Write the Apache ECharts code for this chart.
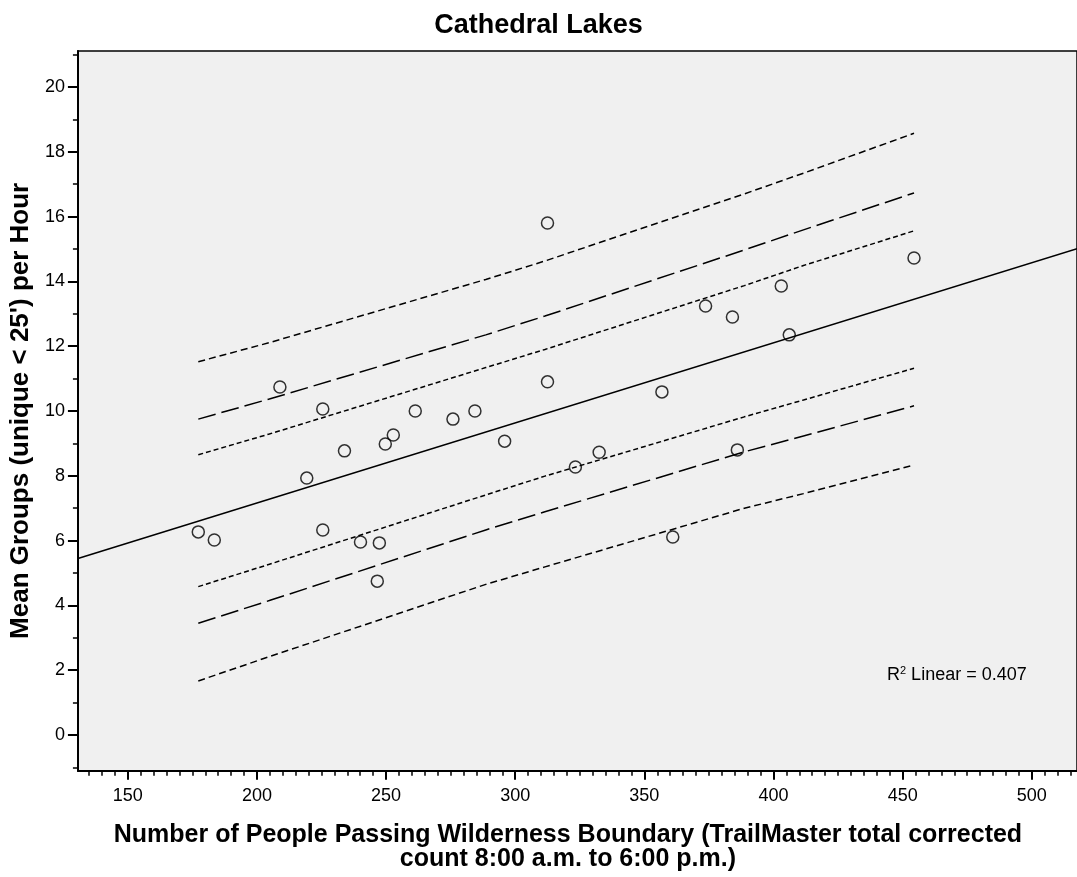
<!DOCTYPE html>
<html>
<head>
<meta charset="utf-8">
<script src="https://cdn.jsdelivr.net/npm/echarts@6/dist/echarts.min.js"></script>
<style>
  html, body { margin: 0; padding: 0; background: #fff; }
  #chart { width: 1077px; height: 877px; }
</style>
</head>
<body>
<div id="chart"></div>
<script>
// People passing the boundary vs. mean groups per hour (Cathedral Lakes)
const peopleCount = [177.3, 183.5, 208.9, 219.3, 225.5, 225.5, 233.9, 240.1, 246.6, 247.4,
  249.7, 252.8, 261.3, 275.9, 284.4, 295.9, 312.5, 312.5, 323.3, 332.5,
  356.8, 361.0, 373.7, 384.1, 386.0, 403.0, 406.1, 454.4];
const meanGroups = [6.27, 6.02, 10.74, 7.93, 10.06, 6.33, 8.77, 5.96, 4.75, 5.93,
  8.98, 9.26, 10.00, 9.75, 10.00, 9.07, 15.80, 10.90, 8.27, 8.73,
  10.59, 6.11, 13.24, 12.90, 8.80, 13.86, 12.35, 14.72];

// Linear fit across the plotted range
const fitX = [130.7, 517.5];
const fitY = [5.45, 15.01];

// Interval bands around the fit
const bandX = [177.3, 204.8, 288.6, 311.5, 388.7, 411.6, 454.4];
const outerUpper = [11.52, 12.11, 14.06, 14.63, 16.70, 17.34, 18.57];
const midUpper   = [9.75, 10.37, 12.35, 12.93, 14.97, 15.59, 16.73];
const innerUpper = [8.65, 9.29, 11.34, 11.90, 13.87, 14.49, 15.56];
const innerLower = [4.58, 5.27, 7.41, 7.99, 9.82, 10.34, 11.32];
const midLower   = [3.45, 4.15, 6.33, 6.89, 8.74, 9.23, 10.16];
const outerLower = [1.67, 2.42, 4.65, 5.19, 7.00, 7.45, 8.33];

// Axis ticks
const xMajorTicks = [150, 200, 250, 300, 350, 400, 450, 500];
const xMinorTicks = [];
for (let v = 135; v <= 515; v += 5) if (v % 50 !== 0) xMinorTicks.push(v);
const yMajorTicks = [0, 2, 4, 6, 8, 10, 12, 14, 16, 18, 20];
const yMinorTicks = [-1, 1, 3, 5, 7, 9, 11, 13, 15, 17, 19, 21];

const FONT = '"Liberation Sans", Arial, Helvetica, sans-serif';
const X_MIN = 130.7, X_MAX = 517.5, Y_MIN = -1.1, Y_MAX = 21.11;

const zip = (xs, ys) => xs.map((x, i) => [x, ys[i]]);

function bandSeries(name, ys, dash) {
  return {
    name, type: 'line', data: zip(bandX, ys), symbol: 'none', smooth: false,
    lineStyle: { color: '#000', width: 1.5, type: dash }, silent: true, z: 3
  };
}

const chart = echarts.init(document.getElementById('chart'), null, { renderer: 'canvas' });
chart.setOption({
  animation: false,
  backgroundColor: '#fff',
  title: {
    text: 'Cathedral Lakes', left: 'center', top: 7,
    textStyle: { fontFamily: FONT, fontSize: 27, fontWeight: 'bold', color: '#000' }
  },
  grid: {
    left: 75.5, top: 51, right: -3, bottom: 106.3,
    show: true, backgroundColor: '#f0f0f0', borderColor: '#000', borderWidth: 1.5
  },
  xAxis: [{
    type: 'value', min: X_MIN, max: X_MAX, position: 'bottom',
    axisLine: { show: true, onZero: false, lineStyle: { color: '#000', width: 2 } },
    axisTick: { show: true, length: 9, customValues: xMajorTicks, lineStyle: { color: '#000', width: 2 } },
    axisLabel: { customValues: xMajorTicks, margin: 16, fontFamily: FONT, fontSize: 18, color: '#000' },
    splitLine: { show: false },
    name: 'Number of People Passing Wilderness Boundary (TrailMaster total corrected\ncount 8:00 a.m. to 6:00 p.m.)',
    nameLocation: 'middle', nameGap: 52,
    nameTextStyle: {
      fontFamily: FONT, fontSize: 25, fontWeight: 'bold', color: '#000', lineHeight: 24,
      padding: [0, 19, 0, 0]
    }
  }, {
    type: 'value', min: X_MIN, max: X_MAX, position: 'bottom', offset: 0,
    axisLine: { show: false, onZero: false },
    axisTick: { show: true, length: 5, customValues: xMinorTicks, lineStyle: { color: '#000', width: 1.5 } },
    axisLabel: { show: false }, splitLine: { show: false }
  }],
  yAxis: [{
    type: 'value', min: Y_MIN, max: Y_MAX, position: 'left',
    axisLine: { show: true, onZero: false, lineStyle: { color: '#000', width: 2 } },
    axisTick: { show: true, length: 10, customValues: yMajorTicks, lineStyle: { color: '#000', width: 2 } },
    axisLabel: { customValues: yMajorTicks, margin: 13, fontFamily: FONT, fontSize: 18, color: '#000' },
    splitLine: { show: false },
    name: "Mean Groups (unique < 25') per Hour",
    nameLocation: 'middle', nameGap: 34, nameRotate: 90,
    nameTextStyle: { fontFamily: FONT, fontSize: 26, fontWeight: 'bold', color: '#000' }
  }, {
    type: 'value', min: Y_MIN, max: Y_MAX, position: 'left', offset: 0,
    axisLine: { show: false, onZero: false },
    axisTick: { show: true, length: 5, customValues: yMinorTicks, lineStyle: { color: '#000', width: 1.5 } },
    axisLabel: { show: false }, splitLine: { show: false }
  }],
  graphic: [{
    type: 'text', left: 887, top: 665, z: 10,
    style: {
      text: '{a|R}{s|2}{a| Linear = 0.407}',
      rich: {
        a: { fontFamily: FONT, fontSize: 18, fill: '#000' },
        s: { fontFamily: FONT, fontSize: 11, fill: '#000', padding: [0, 0, 9, 0] }
      }
    }
  }],
  series: [
    {
      name: 'Fit', type: 'line', data: zip(fitX, fitY), symbol: 'none',
      lineStyle: { color: '#000', width: 1.5 }, silent: true, z: 3
    },
    bandSeries('Outer upper', outerUpper, [7, 4]),
    bandSeries('Mid upper', midUpper, [18, 6]),
    bandSeries('Inner upper', innerUpper, [5, 3]),
    bandSeries('Inner lower', innerLower, [5, 3]),
    bandSeries('Mid lower', midLower, [18, 6]),
    bandSeries('Outer lower', outerLower, [7, 4]),
    {
      name: 'Observed', type: 'scatter', data: zip(peopleCount, meanGroups),
      symbol: 'circle', symbolSize: 12,
      itemStyle: { color: 'rgba(0,0,0,0)', borderColor: '#000', borderWidth: 1.5 },
      z: 5
    }
  ]
});
</script>
</body>
</html>
